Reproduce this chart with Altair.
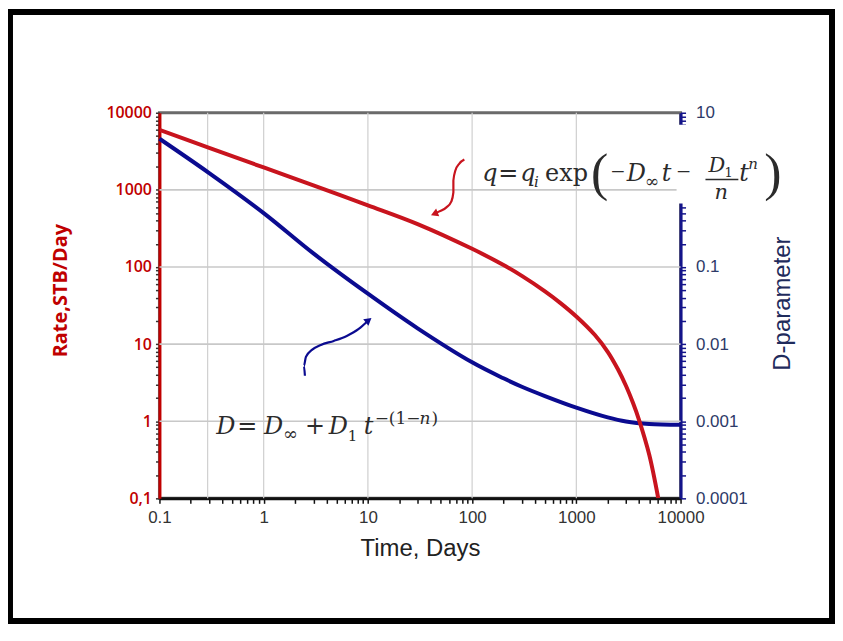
import altair as alt
import pandas as pd

# ---- data ----
time_rate = [0.1, 0.3, 1, 3, 10, 30, 100, 200, 300, 500, 700, 1000, 1500, 2000, 2500, 3000, 3500, 4000, 5000, 6110]
rate = [6000, 3500, 1950, 1140, 630, 360, 172, 106, 76.6, 48.3, 34.3, 22.8, 13.2, 7.95, 4.75, 2.86, 1.72, 1.035, 0.37, 0.1]

time_d = [0.1, 0.3, 1, 3, 10, 30, 100, 200, 300, 500, 1000, 2000, 3000, 5000, 10000]
dparam = [4.6, 1.65, 0.5, 0.15, 0.045, 0.016, 0.0058, 0.0036, 0.0028, 0.00212, 0.0015, 0.00112, 0.00099, 0.00092, 0.0009]

x_grid = [0.29, 1, 10, 100, 1000]
y_grid = [1, 10, 100, 1000]

x_ticks = [round(m * 10 ** e, 6) for e in range(-1, 4) for m in range(1, 10)] + [10000]
yl_ticks = [round(m * 10 ** e, 6) for e in range(-1, 4) for m in range(1, 10)] + [10000]
yr_ticks = [round(m * 10 ** e, 8) for e in range(-4, 1) for m in range(1, 10)] + [10]

RED = "#c8141e"
BLUE = "#0b0b90"
W, H = 523, 387
X0, Y0 = 160, 112  # page position of plot origin

one = pd.DataFrame({"a": [0]})

xs = alt.Scale(type="log", domain=[0.1, 10000])
yl = alt.Scale(type="log", domain=[0.1, 10000])
yr = alt.Scale(type="log", domain=[0.0001, 10])

DEC = "abs(log(datum.value)/LN10 - round(log(datum.value)/LN10)) < 0.001"

x_axis = alt.Axis(
    values=x_ticks, format="~g", labelExpr=f"{DEC} ? datum.label : ''",
    grid=False, labelOverlap=False, labelFlush=False,
    domainColor="#111", domainWidth=3, tickColor="#111", tickSize=5, tickWidth=1.5,
    labelColor="#333", labelFont="Liberation Sans", labelFontSize=17, labelPadding=6,
    title="Time, Days", titleFont="Liberation Sans", titleFontSize=24,
    titleFontWeight="normal", titleColor="#222", titleBaseline="alphabetic",
    titleX=W / 2, titleY=57, titleAlign="center",
)
left_axis = alt.Axis(
    orient="left", values=yl_ticks,
    labelExpr=f"datum.value < 0.15 ? '0,1' : ({DEC} ? format(datum.value, '~g') : '')",
    grid=False, labelOverlap=False, labelFlush=False,
    domainColor="#c00000", domainWidth=3, tickColor="#333", tickSize=4, tickWidth=1.5,
    labelColor="#c00000", labelFont="Open Sans", labelFontSize=16, labelFontWeight=600,
    labelPadding=4,
    title="Rate,STB/Day", titleFont="Open Sans", titleFontSize=20, titleFontWeight="bold",
    titleColor="#c00000", titleAngle=270, titleX=-99, titleY=178,
    titleBaseline="middle", titleAlign="center",
)
right_axis = alt.Axis(
    orient="right", values=yr_ticks,
    labelExpr=f"({DEC} && abs(datum.value - 1) > 0.001) ? format(datum.value, '~g') : ''",
    grid=False, labelOverlap=False, labelFlush=False,
    domainColor="#14148a", domainWidth=3, tickColor="#14148a", tickSize=5, tickWidth=1.5,
    labelColor="#2e3a68", labelFont="Liberation Sans", labelFontSize=17, labelPadding=10,
    title="D-parameter", titleFont="Liberation Sans", titleFontSize=24,
    titleFontWeight="normal", titleColor="#1f2b5c", titleAngle=270,
    titleX=102, titleY=191, titleBaseline="middle", titleAlign="center",
)


def X(field):
    return alt.X(field, type="quantitative", scale=xs, axis=x_axis)


def t_of(px):
    return 10 ** (-1 + (px - X0) / (W / 5))


def q_of(py):
    return 10 ** (4 - (py - Y0) / (H / 5))


def txt(s, px, py, size=24, style="normal", font="DejaVu Serif", color="#2b2b2b"):
    return alt.Chart(one).mark_text(
        text=s, align="left", baseline="alphabetic", font=font, fontSize=size,
        fontStyle=style, color=color,
    ).encode(x=alt.value(px - X0), y=alt.value(py - Y0))


# outer black frame (page coordinates converted to plot offsets)
frame = alt.Chart(one).mark_rect(filled=False, stroke="black", strokeWidth=6, fillOpacity=0).encode(
    x=alt.value(10 - X0), x2=alt.value(835 - X0), y=alt.value(11 - Y0), y2=alt.value(622 - Y0)
)

xgrid = alt.Chart(pd.DataFrame({"t": x_grid})).mark_rule(color="#cfcfcf", strokeWidth=1.2).encode(x=X("t"))
ygrid = alt.Chart(pd.DataFrame({"q": y_grid})).mark_rule(color="#c8c8c8", strokeWidth=1.6).encode(
    y=alt.Y("q:Q", scale=yl, axis=None)
)

blue = alt.Chart(pd.DataFrame({"t": time_d, "D": dparam})).mark_line(
    color=BLUE, strokeWidth=4, interpolate="catmull-rom"
).encode(x=X("t"), y=alt.Y("D:Q", scale=yr, axis=right_axis))

red = alt.Chart(pd.DataFrame({"t": time_rate, "q": rate})).mark_line(
    color=RED, strokeWidth=4, interpolate="catmull-rom", clip=True
).encode(x=X("t"), y=alt.Y("q:Q", scale=yl, axis=left_axis))

# curved annotation arrows (page pixel positions converted to data units)
red_arrow_px = [(466, 159), (461, 163), (457, 170), (455, 180), (455, 192), (453, 201), (448, 207), (441, 211), (437, 213)]
blue_arrow_px = [(306, 376), (305, 366), (307, 357), (313, 350), (322, 345), (335, 341), (348, 336), (360, 329), (369, 321)]


def arrow(pts, color, angle):
    df = pd.DataFrame({"i": list(range(len(pts))), "t": [t_of(p[0]) for p in pts], "q": [q_of(p[1]) for p in pts]})
    line = alt.Chart(df).mark_line(color=color, strokeWidth=2.2, interpolate="monotone").encode(
        x=X("t"), y=alt.Y("q:Q", scale=yl, axis=None), order="i:Q"
    )
    head = alt.Chart(df.tail(1)).mark_point(shape="triangle", filled=True, size=70, angle=angle, color=color, opacity=1).encode(
        x=X("t"), y=alt.Y("q:Q", scale=yl, axis=None)
    )
    return [line, head]


# white patch where the equation box hides the right axis
cover = alt.Chart(one).mark_rule(color="white", strokeWidth=12).encode(
    x=alt.value(685 - X0), y=alt.value(124 - Y0), y2=alt.value(203 - Y0)
)

MINUS_FONT = "Liberation Serif"
eq1 = [
    txt("q", 484, 181, style="italic"),
    txt("=", 500, 181),
    txt("q", 522, 181, style="italic"),
    txt("i", 536, 187, size=15, style="italic"),
    txt("exp", 547, 181),
    txt("(", 593, 190, size=52, font="Liberation Serif"),
    txt("\u2212", 613, 180, size=25, font=MINUS_FONT),
    txt("D", 629, 181, style="italic"),
    txt("\u221e", 647, 187, size=17),
    txt("t", 664, 181, style="italic"),
    txt("\u2212", 679, 180, size=25, font=MINUS_FONT),
    txt("D", 711, 171, size=21, style="italic"),
    txt("1", 727, 176, size=13),
    alt.Chart(one).mark_rule(color="#2b2b2b", strokeWidth=1.5).encode(
        x=alt.value(708 - X0), x2=alt.value(741 - X0), y=alt.value(179 - Y0)
    ),
    txt("n", 717, 199, size=21, style="italic"),
    txt("t", 742, 181, style="italic"),
    txt("n", 751, 168, size=15, style="italic"),
    txt(")", 767, 190, size=52, font="Liberation Serif"),
]

eq2 = [
    txt("D", 217, 434, style="italic"),
    txt("=", 238, 434),
    txt("D", 265, 434, style="italic"),
    txt("\u221e", 284, 440, size=18),
    txt("+", 306, 434),
    txt("D", 330, 434, style="italic"),
    txt("1", 349, 441, size=15),
    txt("t", 365, 434, style="italic"),
    txt("\u2212(1\u2212", 376, 424, size=17),
    txt("n", 421, 424, size=17, style="italic"),
    txt(")", 433, 424, size=17),
]

layers = [frame, xgrid, ygrid, blue, red] + arrow(red_arrow_px, RED, 248) + arrow(blue_arrow_px, BLUE, 51) + [cover] + eq1 + eq2

chart = alt.layer(*layers).resolve_scale(y="independent").properties(
    width=W, height=H,
    padding={"left": 152, "top": 104, "right": 830 - 152 - W, "bottom": 618 - 104 - H},
    autosize=alt.AutoSizeParams(type="none"),
).configure_view(stroke="#6a6a6a", strokeWidth=3)

chart.save("out.html", embed_options={"renderer": "svg", "actions": False})
